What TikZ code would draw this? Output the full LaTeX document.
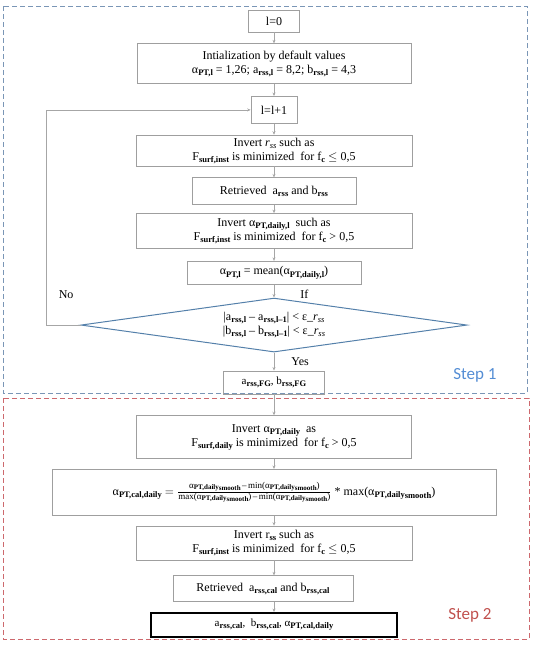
\documentclass[tikz,border=0pt]{standalone}
\usepackage{amsmath}
\usepackage{fontspec}
\setmainfont{Liberation Serif}
\newfontfamily\stepfont{Carlito}
\usepackage{tikz}
\usetikzlibrary{arrows.meta,positioning,shapes.geometric}

\definecolor{frameone}{RGB}{122,150,182}
\definecolor{frametwo}{RGB}{205,105,110}
\definecolor{stepone}{RGB}{84,141,212}
\definecolor{steptwo}{RGB}{192,80,77}
\definecolor{diaedge}{RGB}{84,128,170}
\newcommand{\lowb}[1]{\raisebox{-2.2pt}{\fontsize{8.5}{9}\selectfont\bfseries #1}}
\newcommand{\lowi}[1]{\raisebox{-2.2pt}{\fontsize{8.5}{9}\selectfont\itshape #1}}
\newcommand{\aPT}[1]{α\lowb{PT,#1}}
\newcommand{\aSm}{α\lowb{PT,daily\raisebox{-1.5pt}{smooth}}}
\newcommand{\aTiny}{α\raisebox{-1.5pt}{\fontsize{7}{8}\selectfont\bfseries PT,daily\raisebox{-1pt}{smooth}}}
\newcommand{\fracpart}[1]{\text{\fontsize{9}{10}\selectfont #1}}

\begin{document}
\begin{tikzpicture}[x=1pt,y=1pt,>={Stealth[length=3.5pt,width=3pt]},
  every node/.style={font=\fontsize{12}{14}\selectfont},
  box/.style={draw=gray!75,line width=0.7pt,rectangle,inner sep=1.5pt,align=center},
  arr/.style={->,draw=gray!70,line width=0.6pt}]
\useasboundingbox (0,0) rectangle (534,-648);
% frames of the two steps
\draw[frameone,dashed,line width=0.8pt,dash pattern=on 5pt off 3pt] (3,-6) rectangle (527,-393);
\draw[frametwo,dashed,line width=0.8pt,dash pattern=on 5pt off 3pt] (3,-398) rectangle (529,-639);
\node[stepone,font=\stepfont\fontsize{17}{20}\selectfont] (s1) at (475,-375) {Step 1};
\node[steptwo,font=\stepfont\fontsize{17}{20}\selectfont] (s2) at (470,-615) {Step 2};

% step 1
\node[box,minimum width=51pt,minimum height=22pt] (l0) at (274,-21) {l=0};
\node[box,below=11pt of l0,minimum width=274pt,minimum height=40pt] (init)
  {Intialization by default values\\
   \aPT{l} = 1,26; a\lowb{rss,l} = 8,2; b\lowb{rss,l} = 4,3};
\node[box,below=12pt of init,minimum width=46pt,minimum height=27pt] (lpp) {l=l+1};
\node[box,below=11pt of lpp,minimum width=276pt,minimum height=31pt] (inv1)
  {Invert \textit{r}\lowi{ss} such as\\
   F\lowb{surf,inst} is minimized\ \ for f\lowb{c} $\leq$ 0,5};
\node[box,below=11pt of inv1,minimum width=164pt,minimum height=27pt] (ret1)
  {Retrieved\ \ a\lowb{rss} and b\lowb{rss}};
\node[box,below=8pt of ret1,minimum width=276pt,minimum height=35pt] (inv2)
  {Invert \aPT{daily,l}\ \ such as\\
   F\lowb{surf,inst} is minimized\ \ for f\lowb{c} > 0,5};
\node[box,below=12pt of inv2,minimum width=174pt,minimum height=23pt] (mean)
  {\aPT{l} = mean(\aPT{daily,l})};
\node[diamond,draw=diaedge,line width=1pt,aspect=7,inner sep=0pt,align=center,
  minimum width=386pt,minimum height=54pt,below=13pt of mean] (dia)
  {|a\lowb{rss,l} -- a\lowb{rss,l--1}| < ε\_\textit{r}\lowi{ss}\\
   |b\lowb{rss,l} -- b\lowb{rss,l--1}| < ε\_\textit{r}\lowi{ss}};
\node[box,below=18pt of dia,minimum width=101pt,minimum height=23pt,
  font=\fontsize{11}{13}\selectfont] (fg) {a\lowb{rss,FG}, b\lowb{rss,FG}};

% step 2
\node[box,below=21pt of fg,minimum width=275pt,minimum height=43pt] (inv3)
  {Invert \aPT{daily}\ \ as\\
   F\lowb{surf,daily} is minimized\ \ for f\lowb{c} > 0,5};
\node[box,below=10pt of inv3,minimum width=444pt,minimum height=46pt] (calc)
  {\aPT{cal,daily} $= \frac{\fracpart{\aTiny\,--\,min(\aTiny)}}
   {\fracpart{max(\aTiny)\,--\,min(\aTiny)}}$ * max(\aSm)};
\node[box,below=10pt of calc,minimum width=276pt,minimum height=34pt] (inv4)
  {Invert r\lowb{ss} such as\\
   F\lowb{surf,inst} is minimized\ \ for f\lowb{c} $\leq$ 0,5};
\node[box,below=15pt of inv4,xshift=-11pt,minimum width=180pt,minimum height=26pt] (ret2)
  {Retrieved\ \ a\lowb{rss,cal} and b\lowb{rss,cal}};
\node[box,below=10pt of ret2,xshift=11pt,draw=black,line width=1.6pt,
  minimum width=246pt,minimum height=24pt,font=\fontsize{11}{13}\selectfont] (fin)
  {a\lowb{rss,cal}, \ b\lowb{rss,cal}, \aPT{cal,daily}};

\draw[arr] (l0)--(init);
\draw[arr] (init)--(lpp);
\draw[arr] (lpp)--(inv1);
\draw[arr] (inv1)--(inv1.south |- ret1.north);
\draw[arr] (inv1.south |- ret1.south)--(inv2);
\draw[arr] (inv2)--(inv2.south |- mean.north);
\draw[arr] (inv2.south |- mean.south)--(dia.north) node[pos=0.75,right=26pt,inner sep=0pt] {If};
\draw[arr] (dia)--(fg) node[midway,right=17pt,inner sep=0pt] {Yes};
\draw[arr] (dia.west)--++(-34,0) coordinate (nocorner) |- (lpp.west)
  node[pos=0.07,right=12pt,inner sep=0pt] {No};
\draw[arr] (fg)--(inv3);
\draw[arr] (inv3)--(calc);
\draw[arr] (calc)--(inv4);
\draw[arr] (inv4)--(inv4.south |- ret2.north);
\draw[arr] (inv4.south |- ret2.south)--(fin);
\end{tikzpicture}
\end{document}
